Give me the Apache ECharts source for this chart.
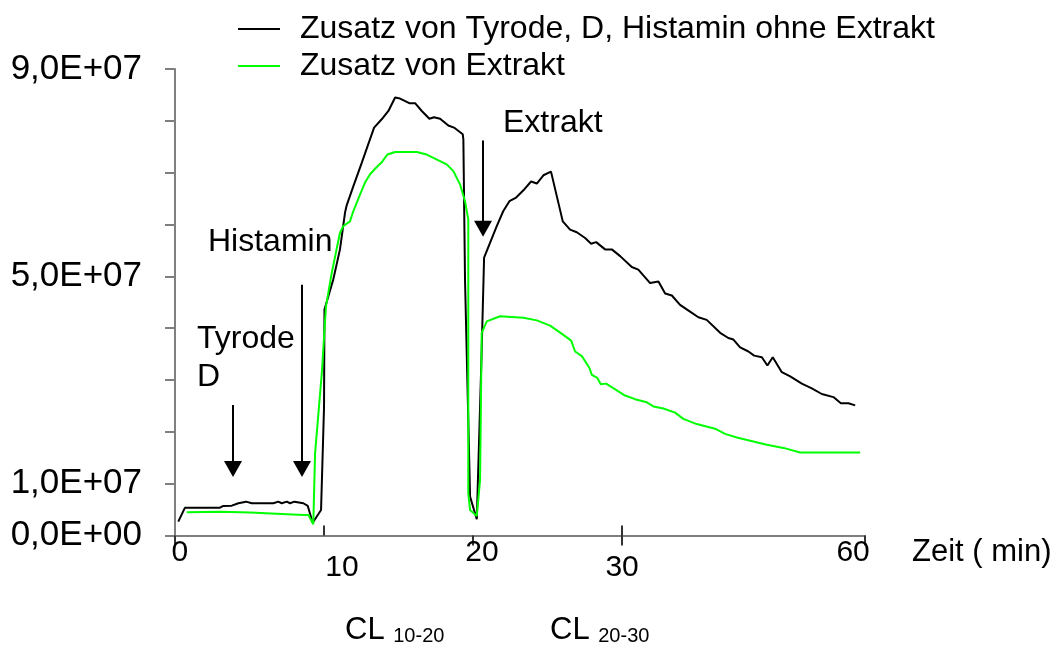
<!DOCTYPE html>
<html>
<head>
<meta charset="utf-8">
<script src="https://cdn.jsdelivr.net/npm/echarts@6/dist/echarts.min.js"></script>
<style>
html,body{margin:0;padding:0;background:#fff;}
#chart{width:1059px;height:668px;}
</style>
</head>
<body>
<div id="chart"></div>
<script>
// ---- data (x in plot time units, y in millions) ----
const seriesNames = ['Zusatz von Tyrode, D, Histamin ohne Extrakt', 'Zusatz von Extrakt'];

const blackData = [
  [0.22,2.67],[0.67,5.37],[3.02,5.37],[3.24,5.70],[3.81,5.76],[4.25,6.22],[4.77,6.53],[5.15,6.22],
  [6.60,6.22],[6.93,6.53],[7.16,6.22],[7.50,6.53],[7.72,6.22],[8.01,6.53],[8.61,6.22],[8.91,5.70],
  [9.24,2.47],[9.80,4.93],[10.00,24.8],[10.03,43.6],[10.62,49.4],[11.07,55.2],[11.41,62.3],[11.52,63.7],
  [11.97,67.4],[12.53,71.9],[12.97,75.5],[13.36,78.7],[13.87,80.3],[14.32,81.9],[14.77,84.5],[15.10,84.3],
  [15.72,83.4],[16.11,83.4],[16.56,81.9],[17.07,80.4],[17.38,80.7],[17.79,80.4],[18.34,79.1],[18.72,78.7],
  [19.31,77.4],[19.35,76.4],[19.46,49.4],[19.80,7.5],[20.25,3.13],[20.58,35.8],[20.74,53.6],[21.59,59.7],
  [22.03,62.6],[22.44,64.5],[22.89,65.2],[23.38,66.6],[23.89,68.3],[24.28,67.9],[24.72,69.5],[25.23,70.2],
  [26.02,60.6],[26.51,59.0],[26.96,58.5],[27.52,57.4],[27.92,56.3],[28.26,56.6],[28.86,55.2],[29.31,55.2],
  [29.87,53.9],[30.65,51.8],[31.09,51.3],[31.88,48.7],[32.44,49.0],[32.89,46.7],[33.34,46.3],[33.89,44.5],
  [34.56,43.2],[35.12,42.1],[35.68,41.6],[36.58,39.1],[37.13,38.1],[37.47,37.8],[37.92,36.3],[38.48,35.5],
  [38.86,34.7],[39.38,34.4],[39.75,32.8],[40.11,34.4],[40.72,31.5],[41.28,30.7],[42.06,29.3],[42.73,28.4],
  [43.40,27.3],[44.18,26.7],[44.68,25.5],[45.19,25.5],[45.64,25.1]
];

const greenData = [
  [0.79,4.48],[3.02,4.60],[5.03,4.44],[8.61,3.96],[8.95,3.96],[9.28,2.16],[9.40,15.9],[9.85,31.3],
  [10.13,44.2],[10.52,50.7],[11.07,58.4],[11.30,59.7],[11.74,60.6],[11.97,62.6],[12.42,65.8],[12.75,68.1],
  [13.09,69.7],[13.54,71.1],[13.87,72.0],[14.25,73.5],[14.77,74.0],[16.22,74.0],[16.89,73.5],[18.23,71.6],
  [18.68,70.3],[19.13,67.7],[19.46,64.5],[19.68,61.0],[19.68,8.2],[19.80,4.9],[20.25,3.77],[20.47,10.7],
  [20.58,39.1],[20.92,41.3],[21.81,42.3],[23.38,42.0],[24.28,41.5],[25.17,40.5],[26.06,38.7],[26.58,37.6],
  [26.85,35.5],[27.30,34.6],[27.81,32.3],[27.97,31.0],[28.34,30.4],[28.57,29.2],[28.93,29.3],[30.20,27.0],
  [30.87,26.3],[31.66,25.7],[32.10,24.9],[32.77,24.5],[33.56,23.7],[34.11,22.5],[35.01,21.5],[36.24,20.6],
  [36.91,19.6],[37.70,18.9],[39.71,17.5],[40.83,16.9],[41.95,16.0],[45.97,16.0]
];

// axis ticks / labels
const xMax = 46.3;
const xTickOut = [0, 20, 30, 46.3];
const xTickIn = [10, 30];
const xLabelPos = [0.33, 11.2, 20.6, 30.0, 45.5];
const xLabelText = ['0', '10', '20', '30', '60'];
const xLabelLow = ['10', '30'];
const yLabelValues = [0, 10, 50, 90];

// annotation arrows: [x, yStart, yEnd]
const arrows = [[3.89, 25.2, 12.85], [8.52, 48.4, 12.85], [20.67, 76.2, 59.2]];
const annotations = [
  {text: 'Tyrode', left: 197, top: 323},
  {text: 'D', left: 197, top: 361},
  {text: 'Histamin', left: 208, top: 226},
  {text: 'Extrakt', left: 503, top: 107}
];

const FONT = '"Liberation Sans", Arial, sans-serif';
const FS = 32;

function sciLabel(v) {
  const n = v * 1e6;
  if (n === 0) return '0,0E+00';
  const e = Math.floor(Math.log10(n) + 1e-9);
  const m = n / Math.pow(10, e);
  return m.toFixed(1).replace('.', ',') + 'E+' + String(e).padStart(2, '0');
}

const chart = echarts.init(document.getElementById('chart'), null, {renderer: 'canvas'});

const axisGray = '#7f7f7f';

const option = {
  animation: false,
  backgroundColor: '#ffffff',
  textStyle: {fontFamily: FONT},
  legend: {
    left: 233, top: 8, orient: 'vertical',
    icon: 'rect', itemWidth: 42, itemHeight: 2, itemGap: 5,
    textStyle: {fontSize: FS, color: '#000', fontFamily: FONT, padding: [0, 0, 0, 15]},
    data: seriesNames
  },
  grid: {left: 175, right: 194, top: 69, bottom: 132.5, containLabel: false},
  xAxis: [{
    type: 'value', min: 0, max: xMax,
    splitLine: {show: false},
    axisLine: {lineStyle: {color: axisGray, width: 2}},
    axisTick: {show: true, length: 10, inside: false, customValues: xTickOut, lineStyle: {color: '#333', width: 2}},
    axisLabel: {
      show: true, customValues: xLabelPos, margin: 2,
      formatter: function (v) {
        const i = xLabelPos.indexOf(v);
        const t = i >= 0 ? xLabelText[i] : '';
        return xLabelLow.indexOf(t) >= 0 ? '{lo|' + t + '}' : '{hi|' + t + '}';
      },
      rich: {
        hi: {fontSize: 30, color: '#000', fontFamily: FONT},
        lo: {fontSize: 30, color: '#000', fontFamily: FONT, padding: [15, 0, 0, 0]}
      }
    }
  }, {
    type: 'value', min: 0, max: xMax, position: 'bottom',
    splitLine: {show: false},
    axisLine: {show: false},
    axisTick: {show: true, length: 10, inside: true, customValues: xTickIn, lineStyle: {color: '#333', width: 2}},
    axisLabel: {show: false}
  }],
  yAxis: {
    type: 'value', min: 0, max: 90, interval: 10,
    splitLine: {show: false},
    axisLine: {show: true, lineStyle: {color: axisGray, width: 2}},
    axisTick: {show: true, length: 10, lineStyle: {color: axisGray, width: 2}},
    axisLabel: {
      customValues: yLabelValues, margin: 33,
      fontSize: 35, color: '#000', fontFamily: FONT,
      formatter: sciLabel
    }
  },
  series: [{
    name: seriesNames[0], type: 'line', data: blackData,
    symbol: 'none', color: '#000000',
    lineStyle: {color: '#000000', width: 2},
    markLine: {
      silent: true, symbol: ['none', 'triangle'], symbolSize: [18, 16],
      label: {show: false},
      lineStyle: {color: '#000', width: 2, type: 'solid'},
      itemStyle: {color: '#000'},
      data: arrows.map(a => [{coord: [a[0], a[1]]}, {coord: [a[0], a[2]]}])
    }
  }, {
    name: seriesNames[1], type: 'line', data: greenData,
    symbol: 'none', color: '#00ff00',
    lineStyle: {color: '#00ff00', width: 2}
  }],
  graphic: annotations.map(a => ({
    type: 'text', left: a.left, top: a.top,
    style: {text: a.text, fill: '#000', font: FS + 'px ' + FONT}
  })).concat([
    {type: 'text', left: 912, top: 537, style: {text: 'Zeit ( min)', fill: '#000', font: '31px ' + FONT}},
    {type: 'text', left: 345, top: 615, style: {
      text: '{a|CL }{b|10-20}', fill: '#000',
      rich: {a: {fontSize: 31, fontFamily: FONT, verticalAlign: 'bottom'},
             b: {fontSize: 20, fontFamily: FONT, verticalAlign: 'bottom', lineHeight: 18}}
    }},
    {type: 'text', left: 550, top: 615, style: {
      text: '{a|CL }{b|20-30}', fill: '#000',
      rich: {a: {fontSize: 31, fontFamily: FONT, verticalAlign: 'bottom'},
             b: {fontSize: 20, fontFamily: FONT, verticalAlign: 'bottom', lineHeight: 18}}
    }}
  ])
};

chart.setOption(option);
</script>
</body>
</html>
